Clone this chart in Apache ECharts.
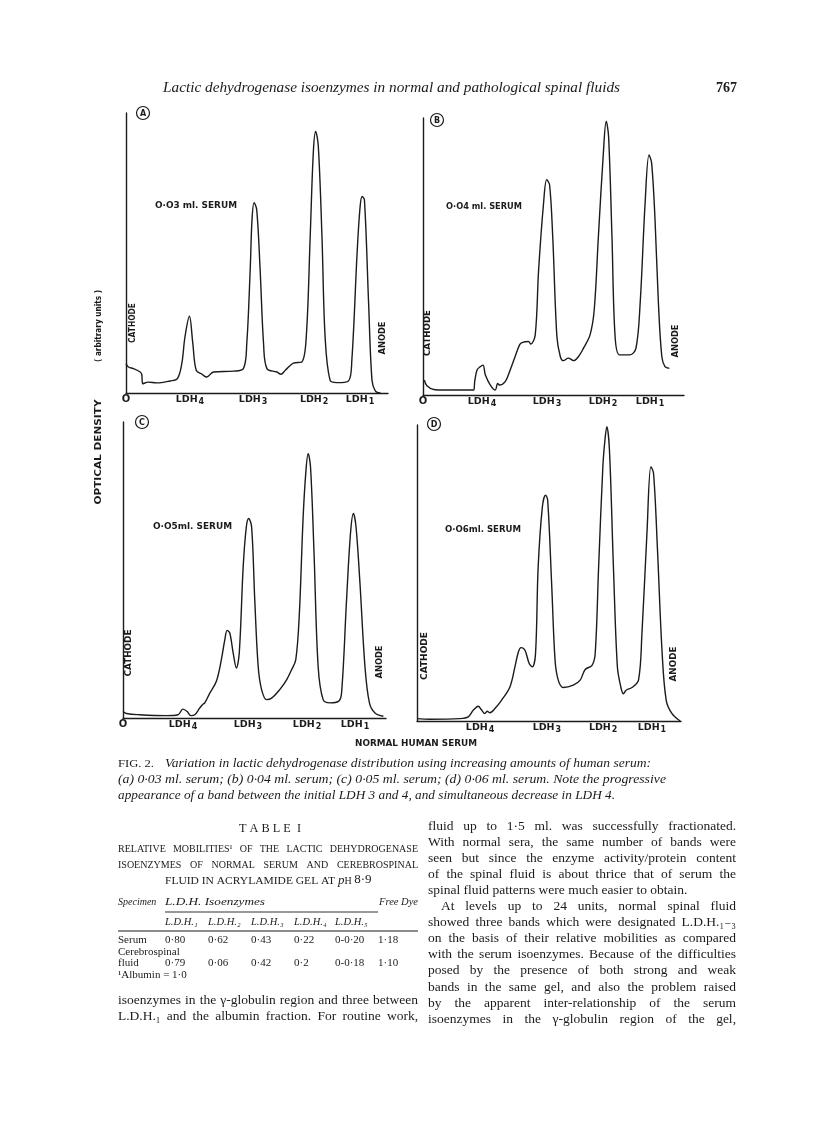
<!DOCTYPE html>
<html>
<head>
<meta charset="utf-8">
<title>LDH isoenzymes</title>
<script src="https://cdn.jsdelivr.net/npm/echarts@6/dist/echarts.min.js"></script>
<style>
  html, body { margin: 0; padding: 0; background: #fff; }
  #page { width: 816px; height: 1131px; }
</style>
</head>
<body>
<div id="page"></div>
<script>
// densitometer traces: [distance along gel 0-100, optical density 0-100]
var traceA = [[0,10.5],[0.9,9.3],[2.8,8.7],[5.4,7.5],[6,6.7],[6.4,3.3],[8.5,3.9],[11.7,3.6],[16.8,4.3],[19.6,5.1],[21.3,10.5],[22.5,20],[24.2,27.4],[25.5,17.7],[26.8,8.1],[29,6.7],[30.8,5.7],[33.4,7.5],[41,7.8],[44.8,8.7],[46.1,17.7],[47.4,43.9],[48.1,62],[48.9,68],[49.9,65.4],[51.2,43.9],[52.5,17.7],[53.8,8.7],[57.6,7.5],[59.1,6.7],[60.8,8.1],[63.9,10.7],[67.1,11.1],[68.8,20],[70.3,55.8],[71.5,86],[72.4,93.4],[73.4,88.1],[74.8,55.8],[76,20],[77.9,4.5],[80.5,3.7],[84.9,4.3],[86.2,11.7],[88.2,49.9],[89.3,66],[90.1,70.2],[91,69],[92.6,32],[93.9,4.5],[95.2,0.7],[97.1,0]];
var traceB = [[0.5,5.4],[1.5,3.3],[4.1,2],[7.9,1.8],[19.4,1.8],[19.8,4.8],[20.7,9],[21.9,10.2],[23,10.8],[23.9,7.2],[25.8,3.6],[27.7,1.8],[28.6,4.2],[29.3,3.6],[31.5,4.8],[33.4,9],[35.3,13.9],[37,18.1],[37.9,18.9],[40.4,19.3],[41.3,18.4],[43,21.7],[44.3,45.2],[46.2,69.3],[47.4,77.7],[48.5,75.9],[49.7,57.2],[51.3,21.1],[52.6,13.9],[53.8,12.4],[55.7,13.3],[57.7,12.4],[59.6,13.9],[61.5,16.9],[64,21.7],[65.6,30.7],[67.2,57.2],[69.1,87.3],[70.2,98.8],[71.1,93.4],[72.4,57.2],[73.6,21.1],[75.3,14.5],[79.3,14.5],[81.6,16.9],[83.2,33.1],[85.1,69.3],[86.6,86.7],[87.6,83.7],[88.9,63.3],[90.2,33.1],[91.5,13.9],[92.7,10.2],[94.4,9.6]];
var traceC = [[0,2.2],[1.3,1.5],[6.3,1.1],[16.5,0.8],[20.9,1.1],[22.8,3],[24.4,2.2],[25.8,0.8],[27.3,1.1],[29.2,3.4],[30.2,4.5],[31.1,5.1],[33,8.4],[35.5,12.4],[37.4,19.7],[38.7,26.4],[39.6,29.6],[40.6,28.7],[41.9,21.9],[43.1,16.9],[44.2,21.9],[45.7,51.1],[46.9,64.6],[47.8,67.4],[48.9,64.6],[50.1,39.9],[51.4,17.4],[52.7,9.6],[54.6,6.2],[56.5,6.7],[59.6,9.6],[62.2,12.9],[64.1,16.3],[65.7,19.7],[67,34.3],[68.5,68],[69.6,84],[70.4,89.3],[71.3,84.8],[72.6,56.7],[74.2,17.4],[76.1,6.2],[78.7,5.1],[81.9,5.6],[83.1,8.4],[85,39.9],[86.5,62.4],[87.6,69.1],[88.6,64.6],[90.1,45.5],[92,17.4],[93.7,5.1],[95.8,1.7],[99,0.6]];
var traceD = [[0,0.8],[4.8,0.6],[16.2,0.8],[19.4,1.4],[21.3,3.6],[23.2,5],[24.4,3.8],[25.7,2.5],[26.6,3.3],[27.6,2.8],[29.5,4.2],[32,7],[35.2,11.5],[37.1,18.3],[38.4,23.3],[39.4,24.8],[40.9,23.9],[42.5,19.4],[43.7,18.3],[44.9,22.8],[45.9,52.1],[47.5,72.4],[48.7,76.3],[49.5,74.6],[51,46.4],[52.3,20.5],[53.5,13.8],[55.4,11.3],[59.2,12.1],[61.8,13.8],[63.7,17.4],[66.3,18.8],[67.5,22.8],[68.8,52.1],[70.4,85.9],[71.2,95],[71.9,99.4],[72.9,91.5],[74.4,52.1],[75.9,18.3],[77.2,11.5],[78.2,9.2],[79.2,10.4],[81.4,11.3],[83.9,13.8],[85.2,29.5],[87.1,63.4],[88.6,85.9],[89.6,83.7],[91.1,57.7],[92.8,23.9],[94.4,7],[96.6,2.5],[99.7,0]];

// band labels under each trace and where they sit along the gel
var bandLabels = ['O', 'LDH4', 'LDH3', 'LDH2', 'LDH1'];
var bandPosA = [0, 24.4, 48.5, 71.8, 89.3];
var bandPosB = [0, 22.6, 47.5, 69, 87];
var bandPosC = [0, 22.8, 47.5, 70, 88.2];
var bandPosD = [23.9, 49.2, 70.5, 89];
var bandLabelsD = ['LDH4', 'LDH3', 'LDH2', 'LDH1'];

var panelLetters = ['A', 'B', 'C', 'D'];
var serumLabels = ['O·O3 ml. SERUM', 'O·O4 ml. SERUM', 'O·O5ml. SERUM', 'O·O6ml. SERUM'];

// Table I
var tableCols = ['L.D.H.₁', 'L.D.H.₂', 'L.D.H.₃', 'L.D.H.₄', 'L.D.H.₅'];
var serumRow = ['0·80', '0·62', '0·43', '0·22', '0-0·20', '1·18'];
var csfRow = ['0·79', '0·06', '0·42', '0·2', '0-0·18', '1·10'];

var INK = '#1b1b1b';
var SERIF = '"Liberation Serif", "DejaVu Serif", serif';
var SANS = '"DejaVu Sans", "Liberation Sans", sans-serif';

var ctx = document.createElement('canvas').getContext('2d');
function measure(str, font) { ctx.font = font; return ctx.measureText(str).width; }

var els = [];
// one text element; opt.width stretches it to the width seen in the scan
function put(str, x, y, font, opt) {
    opt = opt || {};
    var el = {
        type: 'text', x: x, y: y, rotation: opt.rotation || 0, silent: true,
        style: { text: str, font: font, fill: INK, textAlign: opt.align || 'left', textVerticalAlign: 'middle' }
    };
    if (opt.width) el.scaleX = opt.width / measure(str, font);
    els.push(el);
    return measure(str, font) * (el.scaleX || 1);
}
// justified line: words spread from x to x+width
function justify(str, x, y, width, font) {
    var words = str.split(' ');
    var total = 0;
    words.forEach(function (w) { total += measure(w, font); });
    var gap = (width - total) / (words.length - 1);
    var cx = x;
    words.forEach(function (w) { put(w, cx, y, font); cx += measure(w, font) + gap; });
}
function hline(x1, x2, y, w) {
    els.push({ type: 'line', silent: true, shape: { x1: x1, y1: y, x2: x2, y2: y }, style: { stroke: INK, lineWidth: w } });
}

// page header
put('Lactic dehydrogenase isoenzymes in normal and pathological spinal fluids', 163, 88, 'italic 15px ' + SERIF, { width: 457 });
put('767', 737, 88, 'bold 14px ' + SERIF, { align: 'right' });

// panel layout (pixels)
var panels = [
    { trace: traceA, pos: bandPosA, labels: bandLabels, left: 126, top: 113, width: 262, height: 280,
      letter: [143, 113], serum: [155, 206, 82], cathode: [133, 323, 40], anode: [383, 338, 33] },
    { trace: traceB, pos: bandPosB, labels: bandLabels, left: 423, top: 118, width: 261, height: 277,
      letter: [437, 120], serum: [446, 207, 76], cathode: [428, 333, 46], anode: [676, 341, 33] },
    { trace: traceC, pos: bandPosC, labels: bandLabels, left: 123, top: 422, width: 263, height: 296,
      letter: [142, 422], serum: [153, 527, 79], cathode: [129, 653, 47], anode: [380, 662, 33] },
    { trace: traceD, pos: bandPosD, labels: bandLabelsD, left: 417, top: 425, width: 264, height: 296,
      letter: [434, 424], serum: [445, 530, 76], cathode: [425, 656, 48], anode: [674, 664, 35] }
];

var grids = [], xAxes = [], yAxes = [], series = [];
panels.forEach(function (p, i) {
    grids.push({ left: p.left, top: p.top, width: p.width, height: p.height, outerBoundsMode: 'none' });
    xAxes.push({
        type: 'value', gridIndex: i, min: 0, max: 100,
        axisLine: { lineStyle: { color: INK, width: 1.4 } },
        axisTick: { show: false }, splitLine: { show: false },
        axisLabel: {
            customValues: p.pos, margin: 0, color: INK, fontFamily: SANS, fontWeight: 'bold', fontSize: 9.5,
            formatter: function (v) {
                var s = p.labels[p.pos.indexOf(v)];
                return s.length > 1 ? '{m|' + s.slice(0, 3) + '}{s|' + s.slice(3) + '}' : '{o|' + s + '}';
            },
            rich: {
                m: { fontFamily: SANS, fontWeight: 'bold', fontSize: 9.5, color: INK },
                o: { fontFamily: SANS, fontWeight: 'bold', fontSize: 10, color: INK, padding: [1, 0, 0, 0] },
                s: { fontFamily: SANS, fontWeight: 'bold', fontSize: 8, color: INK, padding: [5, 0, 0, 1] }
            }
        }
    });
    yAxes.push({
        type: 'value', gridIndex: i, min: 0, max: 100,
        axisLine: { show: true, lineStyle: { color: INK, width: 1.4 } },
        axisTick: { show: false }, axisLabel: { show: false }, splitLine: { show: false }
    });
    series.push({
        type: 'line', xAxisIndex: i, yAxisIndex: i, data: p.trace, showSymbol: false, smooth: 0.35,
        lineStyle: { color: INK, width: 1.4 }, animation: false
    });

    els.push({ type: 'circle', silent: true, shape: { cx: p.letter[0], cy: p.letter[1], r: 6.5 },
        style: { fill: 'none', stroke: INK, lineWidth: 1.2 } });
    put(panelLetters[i], p.letter[0], p.letter[1] + 0.5, 'bold 8px ' + SANS, { align: 'center' });
    put(serumLabels[i], p.serum[0], p.serum[1], 'bold 8px ' + SANS, { width: p.serum[2] });
    put('CATHODE', p.cathode[0], p.cathode[1], 'bold 8px ' + SANS, { align: 'center', rotation: Math.PI / 2, width: p.cathode[2] });
    put('ANODE', p.anode[0], p.anode[1], 'bold 8px ' + SANS, { align: 'center', rotation: Math.PI / 2, width: p.anode[2] });
});

put('( arbitrary units )', 99, 326, 'bold 8.5px ' + SANS, { align: 'center', rotation: Math.PI / 2, width: 72 });
put('OPTICAL DENSITY', 99, 452, 'bold 8.5px ' + SANS, { align: 'center', rotation: Math.PI / 2, width: 105 });
put('NORMAL HUMAN SERUM', 416, 744, 'bold 8px ' + SANS, { align: 'center', width: 122 });

// figure caption
put('FIG. 2.', 118, 764, '10px ' + SERIF, { width: 36 });
put('Variation in lactic dehydrogenase distribution using increasing amounts of human serum:', 165, 764, 'italic 13px ' + SERIF, { width: 486 });
put('(a) 0·03 ml. serum; (b) 0·04 ml. serum; (c) 0·05 ml. serum; (d) 0·06 ml. serum. Note the progressive', 118, 780, 'italic 13px ' + SERIF, { width: 548 });
put('appearance of a band between the initial LDH 3 and 4, and simultaneous decrease in LDH 4.', 118, 796, 'italic 13px ' + SERIF, { width: 497 });

// Table I
var capFont = '10px ' + SERIF;
var cellFont = '11px ' + SERIF;
var itFont = 'italic 10.5px ' + SERIF;
put('T A B L E  I', 270, 829, '13px ' + SERIF, { align: 'center', width: 62 });
justify('RELATIVE MOBILITIES¹ OF THE LACTIC DEHYDROGENASE', 118, 849, 300, capFont);
justify('ISOENZYMES OF NORMAL SERUM AND CEREBROSPINAL', 118, 865, 300, capFont);
var cx = 165;
cx += put('FLUID IN ACRYLAMIDE GEL AT ', cx, 881, capFont, { width: 173 });
cx += put('p', cx, 881, 'italic 13px ' + SERIF);
cx += put('H ', cx, 881, capFont);
put('8·9', cx, 880, '13px ' + SERIF);

put('Specimen', 118, 902, 'italic 10px ' + SERIF);
put('L.D.H. Isoenzymes', 165, 902, itFont, { width: 100 });
put('Free Dye', 418, 902, itFont, { align: 'right' });
hline(165, 378, 912, 0.9);
var colX = [165, 208, 251, 294, 335, 378];
tableCols.forEach(function (c, i) { put(c, colX[i], 922, itFont); });
hline(118, 418, 931, 1.1);
put('Serum', 118, 940, cellFont);
serumRow.forEach(function (v, i) { put(v, colX[i], 940, cellFont); });
put('Cerebrospinal', 118, 952, cellFont);
put('fluid', 118, 963, cellFont);
csfRow.forEach(function (v, i) { put(v, colX[i], 963, cellFont); });
put('¹Albumin = 1·0', 118, 975, cellFont);

// body text
var bodyFont = '13.5px ' + SERIF;
justify('isoenzymes in the γ-globulin region and three between', 118, 1000, 300, bodyFont);
justify('L.D.H.₁ and the albumin fraction. For routine work,', 118, 1016, 300, bodyFont);

var rightLines = [
    'fluid up to 1·5 ml. was successfully fractionated.',
    'With normal sera, the same number of bands were',
    'seen but since the enzyme activity/protein content',
    'of the spinal fluid is about thrice that of serum the',
    null,
    'At levels up to 24 units, normal spinal fluid',
    'showed three bands which were designated L.D.H.₁₋₃',
    'on the basis of their relative mobilities as compared',
    'with the serum isoenzymes. Because of the difficulties',
    'posed by the presence of both strong and weak',
    'bands in the same gel, and also the problem raised',
    'by the apparent inter-relationship of the serum',
    'isoenzymes in the γ-globulin region of the gel,'
];
rightLines.forEach(function (t, i) {
    var y = 826 + i * 16.1;
    if (t === null) { put('spinal fluid patterns were much easier to obtain.', 428, y, bodyFont); return; }
    var x0 = i === 5 ? 441 : 428;
    justify(t, x0, y, 736 - x0, bodyFont);
});

var chart = echarts.init(document.getElementById('page'));
chart.setOption({
    backgroundColor: '#fff',
    animation: false,
    grid: grids,
    xAxis: xAxes,
    yAxis: yAxes,
    series: series,
    graphic: { elements: els }
});
</script>
</body>
</html>
